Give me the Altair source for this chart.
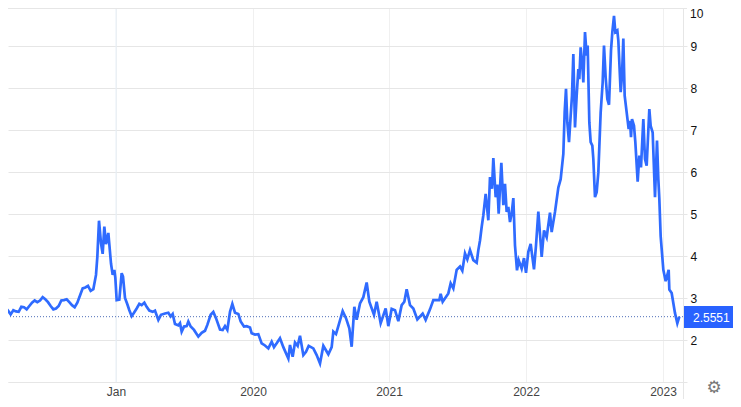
import altair as alt
import pandas as pd

session = [0,8,16,24,32,40,48,56,64,72,80,88,96,104,112,120,128,136,144,152,160,168,176,184,192,200,208,216,224,232,240,248,256,264,272,280,288,292,297,303,308,313,318,325,333,338,343,346,350,358,365,369,375,382,388,395,402,410,418,425,433,440,448,458,465,475,483,495,505,512,518,525,535,540,545,552,560,565,572,582,595,605,615,622,632,640,648,660,668,675,682,690,697,705,715,722,732,740,
 750,755,765,775,785,795,805,815,822,830,840,850,865,870,878,885,893,900,910,918,926,940,950,960,970,985,995,1000,1008,1015,1028,1038,1048,1055,1063,1070,1080,1090,1100,1108,1122,1130,1142,1157,1165,1175,1185,1195,1205,1213,1220,1230,1240,1252,1268,1277,1290,1300,1318,1322,1328,1345,1352,1360,1370,1380,1387,1395,1402,1410,1420,1430,1435,1440,
 1445,1450,1457,1465,1470,1476,1480,1487,1492,1496,1504,1510,1515,1520,1525,1530,1535,1540,1545,1551,1556,1565,1572,1578,1585,1592,1602,1608,1615,1625,1632,1640,1650,1655,1665,1675,
 1682,1690,1694,1698,1702,1707,1712,1716,1720,1725,1730,1735,1738,1742,1747,1750,1755,1760,1763,1768,1772,1777,1780,1785,1790,1795,1802,1808,1812,1817,1822,1827,1833,1837,1842,1846,1852,1855,1862,1866,1870,1874,1880,1886,1890,1893,1896,1902,1906,1913,1918,1923,1930,1935,1940,1948,1952,1958,1965,1971,1975,1978,
 1982,1990,1997,2006,2008,2015,2025,2032,2038]
rate = [2.63,2.71,2.78,2.70,2.61,2.71,2.68,2.67,2.79,2.78,2.73,2.81,2.89,2.94,2.90,2.94,3.02,2.97,2.90,2.81,2.73,2.75,2.81,2.94,2.95,2.97,2.90,2.83,2.78,2.89,3.06,3.23,3.25,3.29,3.17,3.21,3.55,3.98,4.84,4.30,4.05,4.70,4.28,4.55,3.82,3.55,3.67,3.48,2.95,2.96,3.59,3.51,3.00,2.85,2.71,2.57,2.65,2.75,2.86,2.83,2.89,2.79,2.70,2.67,2.70,2.48,2.60,2.63,2.65,2.56,2.62,2.38,2.35,2.40,2.20,2.32,2.33,2.44,2.32,2.24,2.08,2.17,2.22,2.36,2.60,2.67,2.52,2.25,2.24,2.33,2.24,2.67,2.86,2.65,2.62,2.44,2.32,2.33,
 2.30,2.16,2.13,2.14,1.92,1.87,1.80,1.96,1.83,1.92,2.04,1.83,1.56,1.88,1.60,1.94,1.86,2.10,1.64,1.72,1.86,1.80,1.64,1.44,1.86,1.66,1.83,2.20,2.14,2.33,2.69,2.52,2.28,1.84,2.79,2.48,2.87,3.02,3.37,2.91,2.60,2.91,2.40,2.75,2.33,2.74,2.71,2.45,2.83,2.91,3.21,2.83,2.75,2.49,2.63,2.48,2.73,2.95,2.95,3.10,2.91,3.11,3.35,3.23,3.67,3.75,3.65,4.06,3.92,4.14,3.90,3.84,4.14,4.37,
 4.69,4.97,5.48,4.85,5.88,5.60,6.33,5.40,5.70,5.01,6.22,5.21,5.72,5.05,5.17,4.81,5.01,5.38,4.25,3.66,3.90,3.70,3.95,3.60,4.10,4.29,3.68,4.25,5.06,3.98,4.61,4.45,5.03,4.57,5.05,5.63,
 5.83,6.43,7.42,7.98,7.18,6.71,7.34,7.82,8.81,7.06,7.82,8.45,8.21,8.97,8.53,8.13,9.33,8.77,9.01,7.18,6.71,6.63,6.31,5.40,5.52,5.99,7.42,8.13,9.01,8.25,7.74,7.60,8.89,9.33,9.72,9.33,9.37,9.13,7.90,8.29,9.18,7.82,7.42,7.02,7.22,6.83,7.26,7.10,6.71,5.77,6.39,6.11,7.26,6.31,6.15,7.50,7.10,6.94,5.40,6.75,5.83,5.36,
 4.47,3.67,3.40,3.67,3.20,3.12,2.64,2.40,2.5551]

tick_pos = [348,759,1167,1578,1989]
tick_lab = ["Jan","2020","2021","2022","2023"]
y_ticks = [1,2,3,4,5,6,7,8,9]
last = 2.5551
blue = "#2f6bff"
grid = "#e6e6e6"

df = pd.DataFrame({"t": session, "v": rate})
xs = alt.Scale(domain=[24,2049], nice=False, zero=False)
ys = alt.Scale(domain=[1,9.9048], nice=False, zero=False)
lab = "{" + ",".join(f"'{p}':'{l}'" for p,l in zip(tick_pos,tick_lab)) + "}[datum.value]"

base = alt.Chart(df).mark_line(color=blue, strokeWidth=2.7, clip=True, interpolate="linear").encode(
    x=alt.X("t:Q", scale=xs, axis=alt.Axis(values=tick_pos, labelExpr=lab, title=None, grid=True, gridColor="#f0f0f0",
        ticks=False, domainColor=grid, labelColor="#444", labelFont="Liberation Sans", labelFontSize=12, labelBaseline="alphabetic", labelPadding=13, labelFlush=False, labelOverlap=False)),
    y=alt.Y("v:Q", scale=ys, axis=alt.Axis(orient="right", values=y_ticks, labelExpr="datum.value==1?'':datum.value", title=None, grid=True,
        gridColor=grid, tickColor=grid, tickSize=4, domainColor=grid, labelColor="#111", labelFont="Liberation Sans", labelFontSize=12, labelPadding=3)),
)
jan = alt.Chart(pd.DataFrame({"t":[tick_pos[0]]})).mark_rule(color="#e6eff7").encode(x=alt.X("t:Q", scale=xs))
dot = alt.Chart(pd.DataFrame({"v":[last]})).mark_rule(color="#4f6fb8", strokeDash=[1,2], strokeWidth=1).encode(y=alt.Y("v:Q", scale=ys))
top = alt.Chart(pd.DataFrame({"a":[0]})).mark_rule(color=grid).encode(x=alt.value(0), x2=alt.value(679), y=alt.value(0.5))
side = alt.Chart(pd.DataFrame({"a":[0]})).mark_rule(color=grid).encode(x=alt.value(675.5), y=alt.value(0), y2=alt.value(391))
box = alt.Chart(pd.DataFrame({"a":[0]})).mark_rect(color="#2962ff").encode(x=alt.value(676), x2=alt.value(725), y=alt.value(298), y2=alt.value(320))
val = alt.Chart(pd.DataFrame({"s":[f"{last:.4f}"]})).mark_text(color="white", font="Liberation Sans", fontSize=12, align="left").encode(
    x=alt.value(685), y=alt.value(309.5), text="s:N")
ten = alt.Chart(pd.DataFrame({"s":["10"]})).mark_text(color="#111", font="Liberation Sans", fontSize=12, align="left", baseline="middle").encode(
    x=alt.value(682), y=alt.value(6), text="s:N")
gear = alt.Chart(pd.DataFrame({"s":["\u2699"]})).mark_text(color="#777", font="DejaVu Sans", fontSize=17).encode(
    x=alt.value(706), y=alt.value(380), text="s:N")

chart = alt.layer(jan, base, dot, top, side, box, val, ten, gear).properties(
    width=675, height=374, autosize=alt.AutoSizeParams(type="none"),
    padding={"left":0,"top":0,"right":50,"bottom":17},
).configure_view(stroke=None)
chart.save("out.html", embed_options={"renderer": "svg", "actions": False})
